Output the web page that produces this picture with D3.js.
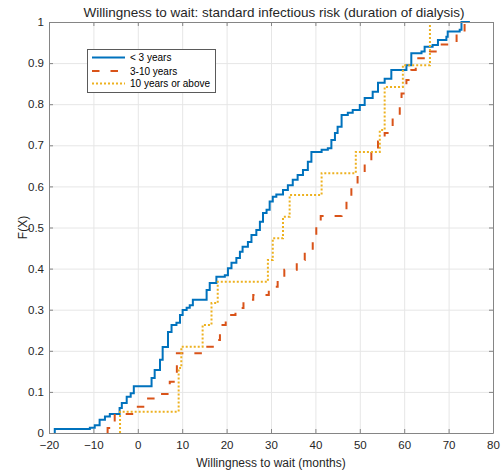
<!DOCTYPE html>
<html>
<head>
<meta charset="utf-8">
<script src="https://cdn.jsdelivr.net/npm/d3@7"></script>
<style>
  html, body { margin: 0; padding: 0; background: #fff; }
  svg { display: block; font-family: "Liberation Sans", Arial, Helvetica, sans-serif; }
</style>
</head>
<body>
<svg id="chart" width="501" height="472"></svg>
<script>
// ECDF step points (x = months, F = cumulative share)
const lt3X = [-18.7, -10.8, -9.7, -8.6, -7.4, -6.3, -4.1, -3.6, -2.5, -1.6, -0.9, 3.1, 3.8, 5.0, 5.6, 6.8, 7.6, 8.7, 9.5, 10.1, 11.0, 11.7, 12.4, 15.5, 16.2, 17.7, 19.6, 20.3, 21.1, 22.2, 23.0, 23.6, 24.8, 25.6, 26.7, 27.5, 28.2, 29.0, 29.7, 30.4, 31.2, 32.7, 33.8, 34.9, 36.0, 37.2, 38.3, 39.1, 41.4, 42.8, 43.6, 44.4, 45.0, 45.9, 47.3, 48.4, 50.0, 51.1, 52.9, 54.1, 55.6, 57.1, 60.5, 61.6, 63.9, 64.6, 66.4, 67.6, 69.5, 69.8, 72.5, 72.9, 74.8]
const lt3F = [0.010, 0.013, 0.019, 0.032, 0.040, 0.046, 0.061, 0.073, 0.088, 0.097, 0.114, 0.134, 0.153, 0.178, 0.209, 0.246, 0.263, 0.268, 0.287, 0.299, 0.305, 0.311, 0.324, 0.348, 0.365, 0.380, 0.384, 0.401, 0.414, 0.426, 0.441, 0.453, 0.465, 0.482, 0.494, 0.514, 0.535, 0.543, 0.563, 0.575, 0.580, 0.591, 0.603, 0.616, 0.628, 0.640, 0.660, 0.684, 0.689, 0.693, 0.713, 0.730, 0.745, 0.774, 0.779, 0.786, 0.798, 0.815, 0.830, 0.852, 0.862, 0.883, 0.895, 0.924, 0.928, 0.940, 0.944, 0.956, 0.964, 0.977, 0.981, 1.0, 1.0]

const midX = [-6.8, -5.2, -0.9, 1.6, 4.3, 7.2, 8.8, 14.5, 17.3, 18.5, 19.8, 22.0, 23.8, 26.0, 29.5, 31.5, 33.0, 35.8, 37.6, 39.4, 40.2, 41.2, 45.9, 47.0, 48.1, 49.5, 51.1, 52.6, 54.1, 55.6, 57.4, 59.0, 59.4, 60.5, 61.6, 62.6, 65.8, 68.0, 71.8, 73.6, 75.5]
const midF = [0.012, 0.046, 0.064, 0.084, 0.095, 0.125, 0.194, 0.210, 0.226, 0.263, 0.287, 0.304, 0.324, 0.336, 0.356, 0.380, 0.397, 0.421, 0.445, 0.470, 0.502, 0.528, 0.535, 0.567, 0.599, 0.628, 0.657, 0.681, 0.709, 0.730, 0.766, 0.794, 0.826, 0.859, 0.883, 0.912, 0.928, 0.945, 0.970, 1.0, 1.0]

const ge10X = [-4.0, 9.2, 9.8, 14.6, 16.6, 18.0, 29.3, 30.4, 32.7, 34.2, 41.4, 49.1, 54.5, 55.6, 59.7, 65.8]
const ge10F = [0.052, 0.158, 0.210, 0.263, 0.316, 0.368, 0.421, 0.474, 0.526, 0.579, 0.632, 0.684, 0.737, 0.842, 0.895, 1.0]

const seriesNames = ['< 3 years', '3-10 years', '10 years or above']
const xTicks = [-20, -10, 0, 10, 20, 30, 40, 50, 60, 70, 80]
const yTicks = [0, 0.1, 0.2, 0.3, 0.4, 0.5, 0.6, 0.7, 0.8, 0.9, 1]

const margin = { top: 22, right: 8, bottom: 39, left: 49 }
const width = 501 - margin.left - margin.right
const height = 472 - margin.top - margin.bottom

const svg = d3.select('#chart')
const g = svg.append('g').attr('transform', 'translate(' + margin.left + ',' + margin.top + ')')

const x = d3.scaleLinear().domain([-20, 80]).range([0, width])
const y = d3.scaleLinear().domain([0, 1]).range([height, 0])

// grid
const grid = g.append('g').attr('class', 'grid')
grid.append('g')
    .attr('transform', 'translate(0,' + height + ')')
    .call(d3.axisBottom(x).tickValues(xTicks).tickSizeInner(-height).tickSizeOuter(0).tickFormat(''))
grid.append('g')
    .call(d3.axisLeft(y).tickValues(yTicks).tickSizeInner(-width).tickSizeOuter(0).tickFormat(''))
grid.selectAll('path').remove()
grid.selectAll('line').attr('stroke', '#e6e6e6')

// series
function steps(xs, fs) {
    const pts = [[xs[0], 0]]
    xs.forEach((v, i) => pts.push([v, fs[i]]))
    return pts
}

const line = d3.line()
    .x(d => x(d[0]))
    .y(d => y(d[1]))
    .curve(d3.curveStepAfter)

const series = [
    { name: seriesNames[0], pts: steps(lt3X, lt3F), color: '#0072BD', dash: null },
    { name: seriesNames[1], pts: steps(midX, midF), color: '#D95319', dash: '7.5,11' },
    { name: seriesNames[2], pts: steps(ge10X, ge10F), color: '#EDB120', dash: '2,2' }
]

g.selectAll('.series')
    .data(series)
    .enter()
    .append('path')
    .attr('class', 'series')
    .attr('d', d => line(d.pts))
    .attr('fill', 'none')
    .attr('stroke', d => d.color)
    .attr('stroke-width', 2)
    .attr('stroke-dasharray', d => d.dash)

// axes (box with inward ticks)
const fmt = d => (d === 0 || d === 1) ? String(d) : d3.format('.1f')(d)

g.append('g').attr('class', 'x axis')
    .attr('transform', 'translate(0,' + height + ')')
    .call(d3.axisBottom(x).tickValues(xTicks).tickSizeInner(-4).tickSizeOuter(0).tickPadding(8))
g.append('g').attr('class', 'x axis top')
    .call(d3.axisTop(x).tickValues(xTicks).tickSizeInner(-4).tickSizeOuter(0).tickFormat(''))
g.append('g').attr('class', 'y axis')
    .call(d3.axisLeft(y).tickValues(yTicks).tickSizeInner(-4).tickSizeOuter(0).tickPadding(5).tickFormat(fmt))
g.append('g').attr('class', 'y axis right')
    .attr('transform', 'translate(' + width + ',0)')
    .call(d3.axisRight(y).tickValues(yTicks).tickSizeInner(-4).tickSizeOuter(0).tickFormat(''))

g.selectAll('.axis path').attr('stroke', '#858585')
g.selectAll('.axis line').attr('stroke', '#858585')
g.selectAll('.axis text')
    .attr('font-size', 11.5)
    .attr('fill', '#262626')
    .attr('font-family', '"Liberation Sans", Arial, sans-serif')

// labels
svg.append('text')
    .text('Willingness to wait: standard infectious risk (duration of dialysis)')
    .attr('x', 274)
    .attr('y', 17)
    .attr('text-anchor', 'middle')
    .attr('font-size', 13.5)
    .attr('fill', '#262626')

svg.append('text')
    .text('Willingness to wait (months)')
    .attr('x', margin.left + width / 2)
    .attr('y', 467)
    .attr('text-anchor', 'middle')
    .attr('font-size', 12)
    .attr('fill', '#262626')

svg.append('text')
    .text('F(X)')
    .attr('transform', 'translate(27,' + (margin.top + height / 2) + ') rotate(-90)')
    .attr('text-anchor', 'middle')
    .attr('font-size', 12)
    .attr('fill', '#262626')

// legend
const legend = svg.append('g').attr('class', 'legend')
legend.append('rect')
    .attr('x', 87.5)
    .attr('y', 49.5)
    .attr('width', 128)
    .attr('height', 43)
    .attr('fill', '#fff')
    .attr('stroke', '#5a5a5a')
    .attr('stroke-width', 1)

const rowY = [57.5, 71, 83.5]
series.forEach((s, i) => {
    legend.append('line')
        .attr('x1', 92).attr('x2', 125)
        .attr('y1', rowY[i]).attr('y2', rowY[i])
        .attr('stroke', s.color)
        .attr('stroke-width', 2)
        .attr('stroke-dasharray', s.dash)
    legend.append('text')
        .text(s.name)
        .attr('x', 130)
        .attr('y', rowY[i])
        .attr('dy', '0.35em')
        .attr('font-size', 10)
        .attr('fill', '#000')
})
</script>
</body>
</html>
